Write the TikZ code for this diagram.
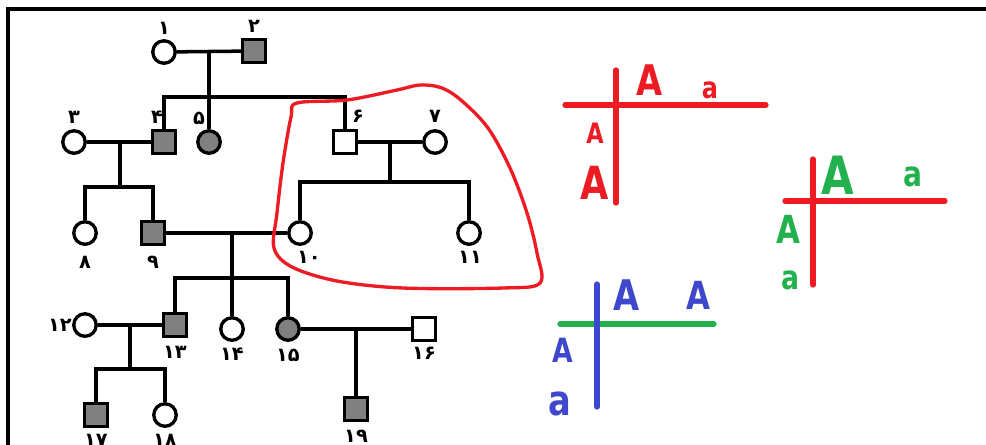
\documentclass[tikz,border=0pt]{standalone}
\usepackage{fontspec}
\usepackage{tikz}
\newfontfamily\persfont[Script=Arabic]{DejaVu Sans}
\newfontfamily\handfont{DejaVu Sans}
\newcommand{\hw}[1]{\scalebox{0.8}[1]{#1}}
\definecolor{pred}{RGB}{237,28,36}
\definecolor{pgreen}{RGB}{34,177,76}
\definecolor{pblue}{RGB}{63,72,204}
\tikzset{
  person/.style={draw, line width=1.9pt, fill=white, inner sep=0pt},
  female/.style={person, circle, minimum size=0.45cm},
  male/.style={person, rectangle, minimum size=0.46cm},
  affected/.style={fill=black!50},
  nr/.style={font=\persfont\bfseries\fontsize{11}{11}\selectfont, inner sep=0pt},
  link/.style={line width=2pt},
  allel/.style={font=\handfont\bfseries\fontsize{#1}{#1}\selectfont, inner sep=0pt},
  allel/.default=18,
  kreuz/.style={line width=3pt, line cap=round}
}

\begin{document}
\begin{tikzpicture}[x=0.02cm, y=-0.02cm]
  \clip (0,0) rectangle (986,444);
  % Rahmen
  \draw[line width=2.5pt] (8,460) -- (8,9) -- (1000,9);
  \node[nr] (l0) at (990,18) {۱};

  % Stammbaum
  \node[female] (p1) at (164,52) {};
  \node[male, affected] (p2) at (254,51) {};
  \node[female] (p3) at (74,142) {};
  \node[male, affected] (p4) at (164,142) {};
  \node[female, affected] (p5) at (209,142) {};
  \node[male] (p6) at (345,142) {};
  \node[female] (p7) at (435,142) {};
  \node[female] (p8) at (85,233) {};
  \node[male, affected] (p9) at (153,233) {};
  \node[female] (p10) at (300,233) {};
  \node[female] (p11) at (469,233) {};
  \node[female] (p12) at (85,325) {};
  \node[male, affected] (p13) at (175,325) {};
  \node[female] (p14) at (232,329) {};
  \node[female, affected] (p15) at (288,329) {};
  \node[male] (p16) at (424,329) {};
  \node[male, affected] (p17) at (96,415) {};
  \node[female] (p18) at (165,415) {};
  \node[male, affected] (p19) at (356,409) {};

  % Nummern
  \node[nr] (l1) at (164,28) {۱};
  \node[nr] (l2) at (254,26) {۲};
  \node[nr] (l3) at (74,117) {۳};
  \node[nr] (l4) at (157,117) {۴};
  \node[nr] (l5) at (199,118) {۵};
  \node[nr] (l6) at (358,116) {۶};
  \node[nr] (l7) at (435,116) {۷};
  \node[nr] (l8) at (85,262) {۸};
  \node[nr] (l9) at (153,262) {۹};
  \node[nr] (l10) at (309,257) {۱۰};
  \node[nr] (l11) at (470,257) {۱۱};
  \node[nr] (l12) at (60,325) {۱۲};
  \node[nr] (l13) at (175,352) {۱۳};
  \node[nr] (l14) at (232,354) {۱۴};
  \node[nr] (l15) at (288,355) {۱۵};
  \node[nr] (l16) at (424,353) {۱۶};
  \node[nr] (l17) at (96,440) {۱۷};
  \node[nr] (l18) at (165,440) {۱۸};
  \node[nr] (l19) at (356,436) {۱۹};

  % Ehen und Geschwister
  \coordinate (m12) at (209,52);
  \coordinate (s12) at (209,97);
  \draw[link] (p1) -- (p2);
  \draw[link] (m12) -- (s12) -- (p5);
  \draw[link] (p4) -- (p4 |- s12) -- (p6 |- s12) -- (p6);

  \coordinate (m34) at (120,142);
  \coordinate (s34) at (120,187);
  \draw[link] (p3) -- (p4);
  \draw[link] (m34) -- (s34);
  \draw[link] (p8) -- (p8 |- s34) -- (p9 |- s34) -- (p9);

  \coordinate (m67) at (390,142);
  \coordinate (s67) at (390,182);
  \draw[link] (p6) -- (p7);
  \draw[link] (m67) -- (s67);
  \draw[link] (p10) -- (p10 |- s67) -- (p11 |- s67) -- (p11);

  \coordinate (m910) at (232,233);
  \coordinate (s910) at (232,278);
  \draw[link] (p9) -- (p10);
  \draw[link] (m910) -- (s910) -- (p14);
  \draw[link] (p13) -- (p13 |- s910) -- (p15 |- s910) -- (p15);

  \coordinate (m1213) at (130,325);
  \coordinate (s1213) at (130,369);
  \draw[link] (p12) -- (p13);
  \draw[link] (m1213) -- (s1213);
  \draw[link] (p17) -- (p17 |- s1213) -- (p18 |- s1213) -- (p18);

  \coordinate (m1516) at (356,329);
  \draw[link] (p15) -- (p16);
  \draw[link] (m1516) -- (p19);

  % Markierung
  \draw[pred, line width=1.9pt] plot[smooth cycle, tension=0.55] coordinates {
    (297,103) (347,100) (397,90) (420,85) (442,88) (462,101) (488,128)
    (510,168) (527,213) (537,253) (540,283) (503,288) (403,288)
    (337,281) (292,267) (274,248) (277,213) (283,163) (291,117)};

  % Kreuzung 1
  \draw[kreuz, pred] (565,105) -- (766,105);
  \draw[kreuz, pred] (616,70) -- (616,203);
  \node[allel=24, pred] (r1) at (650,80) {\hw{A}};
  \node[allel=17, pred] (r2) at (710,90) {\hw{a}};
  \node[allel=16, pred] (r3) at (595,133) {\hw{A}};
  \node[allel=26, pred] (r4) at (595,183) {\hw{A}};

  % Kreuzung 2
  \draw[kreuz, pred] (785,201) -- (945,201);
  \draw[kreuz, pred] (813,159) -- (813,285);
  \node[allel=30, pgreen] (g1) at (838,175) {\hw{A}};
  \node[allel=20, pgreen] (g2) at (913,177) {\hw{a}};
  \node[allel=22, pgreen] (g3) at (788,229) {\hw{A}};
  \node[allel=19, pgreen] (g4) at (790,280) {\hw{a}};

  % Kreuzung 3
  \draw[kreuz, pgreen] (560,324) -- (714,324);
  \draw[kreuz, pblue] (597,284) -- (597,407);
  \node[allel=24, pblue] (b1) at (627,295) {\hw{A}};
  \node[allel=22, pblue] (b2) at (698,295) {\hw{A}};
  \node[allel=19, pblue] (b3) at (563,350) {\hw{A}};
  \node[allel=24, pblue] (b4) at (560,404) {\hw{a}};
\end{tikzpicture}
\end{document}
